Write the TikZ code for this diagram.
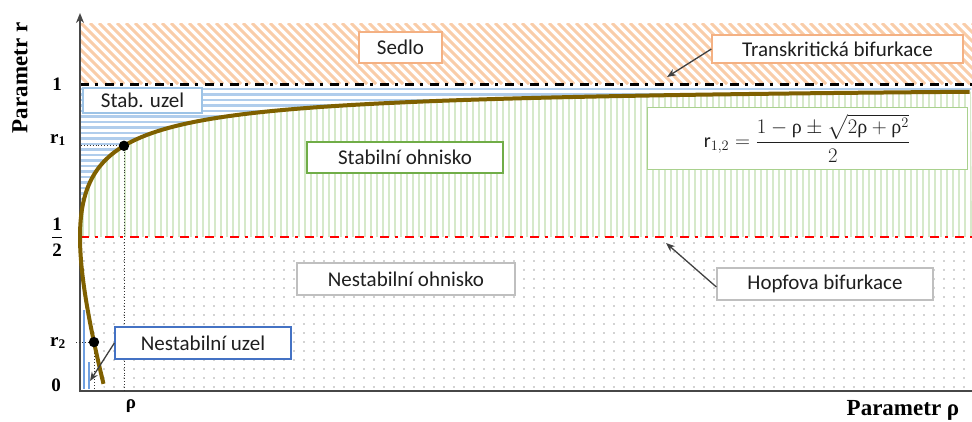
\documentclass[tikz,border=0pt]{standalone}
\usepackage{fontspec}
\usepackage{amsmath}
\setmainfont{Carlito}
\newfontfamily\labfont{Liberation Serif}
\usetikzlibrary{arrows.meta}

\definecolor{hatchorange}{HTML}{F9CDA9}
\definecolor{stripeblue}{HTML}{B0CDEC}
\definecolor{deepstripeblue}{HTML}{6F9FE0}
\definecolor{stripegreen}{HTML}{D6E9CA}
\definecolor{curvebrown}{HTML}{7F6000}
\definecolor{axisgray}{HTML}{474747}
\definecolor{dotgray}{HTML}{A6A6A6}
\definecolor{borderorange}{HTML}{F4B183}
\definecolor{borderlightblue}{HTML}{9DC3E6}
\definecolor{borderblue}{HTML}{4472C4}
\definecolor{bordergreen}{HTML}{70AD47}
\definecolor{borderlightgreen}{HTML}{A9D18E}
\definecolor{bordergray}{HTML}{BFBFBF}
\definecolor{textdark}{HTML}{1F1F1F}

\begin{document}
\begin{tikzpicture}[x=1pt,y=-1pt,
  declare function={rr(\s)=(1-\s*\s+\s*sqrt(2+\s*\s))/2;},
  box/.style={draw, fill=white, line width=1.3pt, inner sep=0pt,
    font=\fontsize{21}{25}\selectfont, text=textdark},
  callout/.style={-{Stealth[length=9pt,width=7pt]}, line width=1.3pt, draw=black!75},
  ticklabel/.style={font=\labfont\bfseries\fontsize{19}{22}\selectfont, inner sep=0pt},
  axislabel/.style={font=\labfont\bfseries\fontsize{23}{27}\selectfont, inner sep=0pt},
  bifline/.style={line width=2.2pt, dash pattern=on 9pt off 6pt on 3pt off 7pt},
  guide/.style={line width=0.9pt, dotted, black!80},
  marker/.style={fill=black},
]
\useasboundingbox (0,0) rectangle (972,421);

% saddle region: diagonal hatch above r = 1
\begin{scope}
  \clip (80,23) rectangle (972,84);
  \foreach \x in {0,9,...,972} \draw[hatchorange, line width=3pt] (\x,23) -- ++(61,61);
\end{scope}

% stable node region: horizontal stripes between r = 1 and the upper branch
\begin{scope}
  \clip plot[domain=0:2.987, samples=200, variable=\s] ({80+100*\s*\s},{390-306*rr(\s)})
        -- (972,85) -- (80,85) -- cycle;
  \foreach \y in {89,94.5,...,240} \draw[stripeblue, line width=2.2pt] (80,\y) -- (972,\y);
\end{scope}

% stable focus region: vertical stripes between the upper branch and r = 1/2
\begin{scope}
  \clip plot[domain=0:2.987, samples=200, variable=\s] ({80+100*\s*\s},{390-306*rr(\s)})
        -- (972,237) -- (80,237) -- cycle;
  \foreach \x in {83,89,...,972} \draw[stripegreen, line width=2pt] (\x,85) -- (\x,237);
\end{scope}

% unstable focus region: dotted area below r = 1/2
\begin{scope}
  \clip plot[domain=0:0.4848, samples=60, variable=\s] ({80+100*\s*\s},{390-306*rr(-\s)})
        -- (104,390) -- (972,390) -- (972,237) -- cycle;
  \foreach \i in {0,...,89} {
    \foreach \j in {0,...,16} {
      \fill[dotgray] ({84+10*\i},{243+9*\j}) circle (0.8);
    }
  }
\end{scope}

% unstable node region next to the axis
\draw[deepstripeblue, line width=1.3pt] (84,310) -- (84,389);
\draw[deepstripeblue, line width=1.3pt] (89,362) -- (89,389);

% bifurcation lines
\draw[bifline, black] (80,84.5) -- (972,84.5);
\draw[bifline, red] (80,237) -- (972,237);

% axes
\draw[axisgray, line width=2.5pt] (78.75,391) -- (972,391);
\draw[axisgray, line width=2.5pt, -{Stealth[length=10pt,width=8pt]}] (80,392) -- (80,13);

% guide lines to the marked points
\coordinate (p1) at (124,145.8);
\coordinate (p2) at (94,342.1);
\draw[guide] (81,145.8) -- (p1) -- (124,390);
\draw[guide] (76,342.1) -- (p2) -- (94,390);

% the curve r_{1,2}(rho)
\draw[curvebrown, line width=4pt]
  plot[domain=-0.4848:2.987, samples=300, variable=\s] ({80+100*\s*\s},{390-306*rr(\s)});

\fill[marker] (p1) circle (5.2);
\fill[marker] (p2) circle (5.2);

% region labels
\node[box, draw=borderorange, minimum width=83pt, minimum height=31pt] (sedlo) at (400.5,47.5) {Sedlo};
\node[box, draw=borderorange, minimum width=251pt, minimum height=28pt] (trans) at (837.5,49) {Transkritická bifurkace};
\node[box, draw=borderlightblue, minimum width=119pt, minimum height=25pt] (stabuzel) at (142.5,100.5) {Stab. uzel};
\node[box, draw=bordergreen, minimum width=196pt, minimum height=31pt] (stabohn) at (405,157.5) {Stabilní ohnisko};
\node[box, draw=borderlightgreen, line width=1pt, minimum width=320pt, minimum height=62pt,
      font=\fontsize{20}{24}\selectfont] (formula) at (807,138)
  {$\mathrm{r}_{1,2}=\dfrac{1-\text{\labfont ρ}\pm\sqrt{2\text{\labfont ρ}+\text{\labfont ρ}^2}}{2}$};
\node[box, draw=bordergray, minimum width=218pt, minimum height=32pt] (nestabohn) at (406,279) {Nestabilní ohnisko};
\node[box, draw=bordergray, minimum width=216pt, minimum height=32pt] (hopf) at (825,284) {Hopfova bifurkace};
\node[box, draw=borderblue, minimum width=176pt, minimum height=32pt] (nestabuzel) at (203,343) {Nestabilní uzel};

% callouts
\coordinate (transtip) at (667,77);
\coordinate (hopftip) at (666,243);
\coordinate (uzeltip) at (90,381);
\draw[callout] (trans.west) -- (transtip);
\draw[callout] ([yshift=-3pt]hopf.west) -- (hopftip);
\draw[callout] (nestabuzel.west) -- (uzeltip);

% axis ticks and titles
\node[ticklabel] (t1) at (57,84) {1};
\node[ticklabel] (tr1) at (58,140) {r\textsubscript{1}};
\node[ticklabel] (thalf) at (57,237) {$\genfrac{}{}{1.8pt}{0}{\text{\labfont\bfseries 1}}{\text{\labfont\bfseries 2}}$};
\node[ticklabel] (tr2) at (58,343) {r\textsubscript{2}};
\node[ticklabel] (t0) at (56,385) {0};
\node[ticklabel] (trho) at (131,406) {ρ};
\node[axislabel, rotate=90] (ylab) at (20,78) {Parametr r};
\node[axislabel] (xlab) at (903,410) {Parametr ρ};
\end{tikzpicture}
\end{document}
